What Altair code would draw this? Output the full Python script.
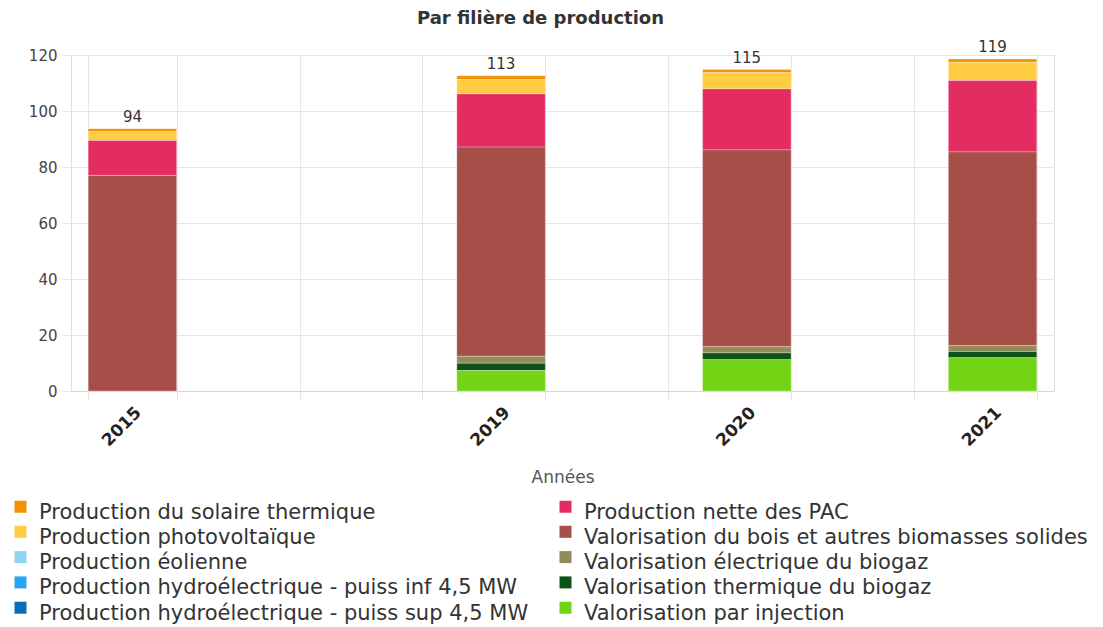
import altair as alt
import pandas as pd

years = ["2015", "2019", "2020", "2021"]
# x slots of the category axis (blank slots have no data)
x_slots = ["2015", " ", "  ", "2019", "   ", "2020", "    ", "2021"]

series = [
    "Production du solaire thermique",
    "Production photovoltaïque",
    "Production éolienne",
    "Production hydroélectrique - puiss inf 4,5 MW",
    "Production hydroélectrique - puiss sup 4,5 MW",
    "Production nette des PAC",
    "Valorisation du bois et autres biomasses solides",
    "Valorisation électrique du biogaz",
    "Valorisation thermique du biogaz",
    "Valorisation par injection",
]
colors = [
    "#F39200", "#FFCC44", "#8ED4F2", "#27A6F5", "#0B6BB5",
    "#E32D62", "#A64E48", "#938B58", "#0E5217", "#72D414",
]

solaire_thermique = [1.1, 1.4, 1.1, 1.2]
photovoltaique = [3.1, 5.1, 5.8, 6.5]
eolien = [0, 0, 0, 0]
hydro_inf = [0, 0, 0, 0]
hydro_sup = [0, 0, 0, 0]
pac = [12.5, 19.0, 21.8, 25.5]
bois = [77.0, 74.7, 70.3, 69.2]
biogaz_elec = [0, 2.5, 2.2, 2.1]
biogaz_therm = [0, 2.6, 2.4, 2.2]
injection = [0, 7.3, 11.2, 11.9]

values = [solaire_thermique, photovoltaique, eolien, hydro_inf, hydro_sup,
          pac, bois, biogaz_elec, biogaz_therm, injection]

rows = []
for rank, (name, vals) in enumerate(zip(series, values)):
    for y, v in zip(years, vals):
        rows.append({"annee": y, "filiere": name, "rank": rank, "valeur": v})
df = pd.DataFrame(rows)

FONT = "DejaVu Sans"
x_scale = alt.Scale(domain=x_slots, paddingInner=0.28, paddingOuter=0.14)

x_enc = alt.X(
    "annee:N",
    scale=x_scale,
    axis=alt.Axis(
        title="Années", titleFont=FONT, titleFontSize=17, titleFontWeight="normal",
        titleColor="#555555", titlePadding=21,
        labelAngle=-45, labelFont=FONT, labelFontSize=17, labelFontWeight="bold",
        labelColor="#222222", labelPadding=4,
        tickBand="extent", grid=True, gridColor="#e6e6e6", ticks=True,
        tickColor="#e6e6e6", tickSize=9, domainColor="#d6d6d6",
    ),
)

bars = alt.Chart(df).transform_filter("datum.valeur > 0").mark_bar(
    stroke="#ffffff", strokeWidth=0.5, strokeOpacity=0.6
).encode(
    x=x_enc,
    y=alt.Y(
        "sum(valeur):Q",
        scale=alt.Scale(domain=[0, 120], nice=False),
        axis=alt.Axis(
            title=None, values=[0, 20, 40, 60, 80, 100, 120],
            labelFont=FONT, labelFontSize=15, labelColor="#444444", labelPadding=5,
            gridColor="#e6e6e6", tickColor="#e6e6e6", tickSize=9, domain=False,
        ),
    ),
    color=alt.Color(
        "filiere:N",
        scale=alt.Scale(domain=series, range=colors),
        legend=alt.Legend(
            orient="none", legendX=-61, legendY=447, columns=2, title=None,
            symbolType="M-1,-2H1V0H-1Z", symbolSize=144, symbolStrokeWidth=0,
            labelFont=FONT, labelFontSize=21, labelColor="#333333",
            labelOffset=8, labelLimit=0, rowPadding=2.3, columnPadding=26,
            padding=0,
        ),
    ),
    order=alt.Order("rank:Q", sort="descending"),
)

totals = alt.Chart(df).transform_aggregate(
    total="sum(valeur)", groupby=["annee"]
).transform_calculate(
    label="format(round(datum.total), 'd')"
).mark_text(
    font=FONT, fontSize=15, color="#333333", baseline="alphabetic", dy=-7
).encode(
    x=alt.X("annee:N", scale=x_scale),
    y=alt.Y("total:Q"),
    text="label:N",
)

chart = alt.layer(bars, totals).properties(
    width=983,
    height=336,
    autosize=alt.AutoSizeParams(type="none"),
    padding={"left": 63, "top": 47, "right": 41, "bottom": 236},
    title=alt.Title(
        "Par filière de production", font=FONT, fontSize=18, fontWeight="bold",
        color="#333333", anchor="middle", offset=12, dx=-22,
    ),
).configure_view(strokeWidth=0).configure(background="#ffffff")

chart.save("out.html", embed_options={"renderer": "svg", "actions": False})
